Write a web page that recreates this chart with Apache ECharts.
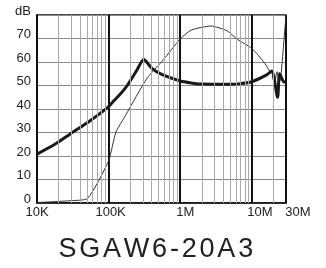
<!DOCTYPE html>
<html>
<head>
<meta charset="utf-8">
<script src="https://cdn.jsdelivr.net/npm/echarts@6/dist/echarts.min.js"></script>
<style>
  html, body { margin: 0; padding: 0; background: #fff; }
  #chart { width: 326px; height: 268px; }
</style>
</head>
<body>
<div id="chart"></div>
<script>
// thick curve
var thickFreq = [10000, 18000, 28500, 54000, 100000, 119000, 150000, 182000, 249000, 309000, 402000, 552000, 1000000, 1500000, 2000000, 5000000, 7000000, 10000000, 16100000, 19000000, 22900000, 24400000, 27900000, 30000000];
var thickDb = [20.8, 25.1, 29.2, 34.8, 41, 43.6, 46.8, 50, 56.6, 61.1, 57.3, 54.7, 51.9, 51, 50.6, 50.5, 50.8, 51.6, 54.5, 56.2, 45, 55, 51.6, 51.5];

// thin curve
var thinFreq = [10000, 30000, 51000, 100000, 126000, 173000, 343000, 583000, 1000000, 1430000, 2670000, 4500000, 6300000, 10000000, 15200000, 17900000, 19000000, 20700000, 22400000, 24400000, 25500000, 30000000];
var thinDb = [0.2, 1, 2, 18, 30, 37.4, 53, 61, 69.8, 73.6, 75.3, 73.3, 69.6, 65.8, 59.4, 55.9, 55.5, 50.2, 55.9, 51.6, 54, 80];

// grid lines between decades
var minorFreq = [20000, 30000, 40000, 50000, 60000, 70000, 80000, 90000,
  200000, 300000, 400000, 500000, 600000, 700000, 800000, 900000,
  2000000, 3000000, 4000000, 5000000, 6000000, 7000000, 8000000, 9000000,
  20000000];

var xTickValues = [10000, 100000, 1000000, 10000000, 30000000];
var xTickLabels = ['10K', '100K', '1M', '10M', '30M'];
var yTickLabels = ['0', '10', '20', '30', '40', '50', '60', '70', 'dB'];
var titleText = 'SGAW6-20A3';

(function () {
  var font = 'Arial, "Liberation Sans", sans-serif';

  function pairs(xs, ys) {
    return xs.map((x, i) => [x, ys[i]]);
  }

  var xRich = {};
  [0, 4, 10, 16, 24].forEach(function (p, i) {
    xRich['l' + i] = {fontSize: 13, fontFamily: font, color: '#222', padding: [0, 0, 0, p]};
  });

  var myChart = echarts.init(document.getElementById('chart'));
  var option = {
    animation: false,
    title: {
      text: titleText.split('').map(c => '{c|' + c + '}').join(''),
      left: 57,
      top: 236,
      padding: 0,
      textStyle: {
        rich: {
          c: {fontSize: 27, fontFamily: font, color: '#222', fontWeight: 'normal', padding: [0, 1.4, 0, 1.4]}
        }
      }
    },
    grid: {
      left: 37, right: 40, top: 15, bottom: 65,
      show: true, borderColor: '#111', borderWidth: 1.5
    },
    xAxis: {
      type: 'log',
      logBase: 10,
      min: 10000,
      max: 30000000,
      axisLine: {lineStyle: {color: '#111', width: 1.5}},
      axisTick: {show: false},
      splitLine: {show: true, lineStyle: {color: '#111', width: 2}},
      axisLabel: {
        margin: 3,
        formatter: function (v) {
          for (var i = 0; i < xTickValues.length; i++) {
            if (Math.abs(Math.log10(v) - Math.log10(xTickValues[i])) < 0.01) {
              return '{l' + i + '|' + xTickLabels[i] + '}';
            }
          }
          return '';
        },
        rich: xRich
      }
    },
    yAxis: {
      type: 'value',
      min: 0,
      max: 80,
      interval: 10,
      axisLine: {show: true, lineStyle: {color: '#111', width: 1.5}},
      axisTick: {show: false},
      splitLine: {lineStyle: {color: '#888', width: 1}},
      axisLabel: {
        margin: 6,
        formatter: v => '{a|' + yTickLabels[Math.round(v / 10)] + '}',
        rich: {a: {fontSize: 13, fontFamily: font, color: '#222', padding: [0, 0, 8, 0]}}
      }
    },
    series: [
      {
        name: 'grid',
        type: 'line',
        data: [],
        z: 1,
        silent: true,
        markLine: {
          silent: true,
          symbol: ['none', 'none'],
          label: {show: false},
          lineStyle: {color: '#aaa', width: 1, type: 'solid'},
          data: minorFreq.map(f => ({xAxis: f}))
        }
      },
      {
        name: 'thin',
        type: 'line',
        z: 3,
        showSymbol: false,
        smooth: 0.2,
        data: pairs(thinFreq, thinDb),
        lineStyle: {color: '#333', width: 1}
      },
      {
        name: 'thick',
        type: 'line',
        z: 4,
        showSymbol: false,
        smooth: 0.25,
        data: pairs(thickFreq, thickDb),
        lineStyle: {color: '#1a1a1a', width: 3}
      }
    ]
  };

  myChart.setOption(option);
})();
</script>
</body>
</html>
